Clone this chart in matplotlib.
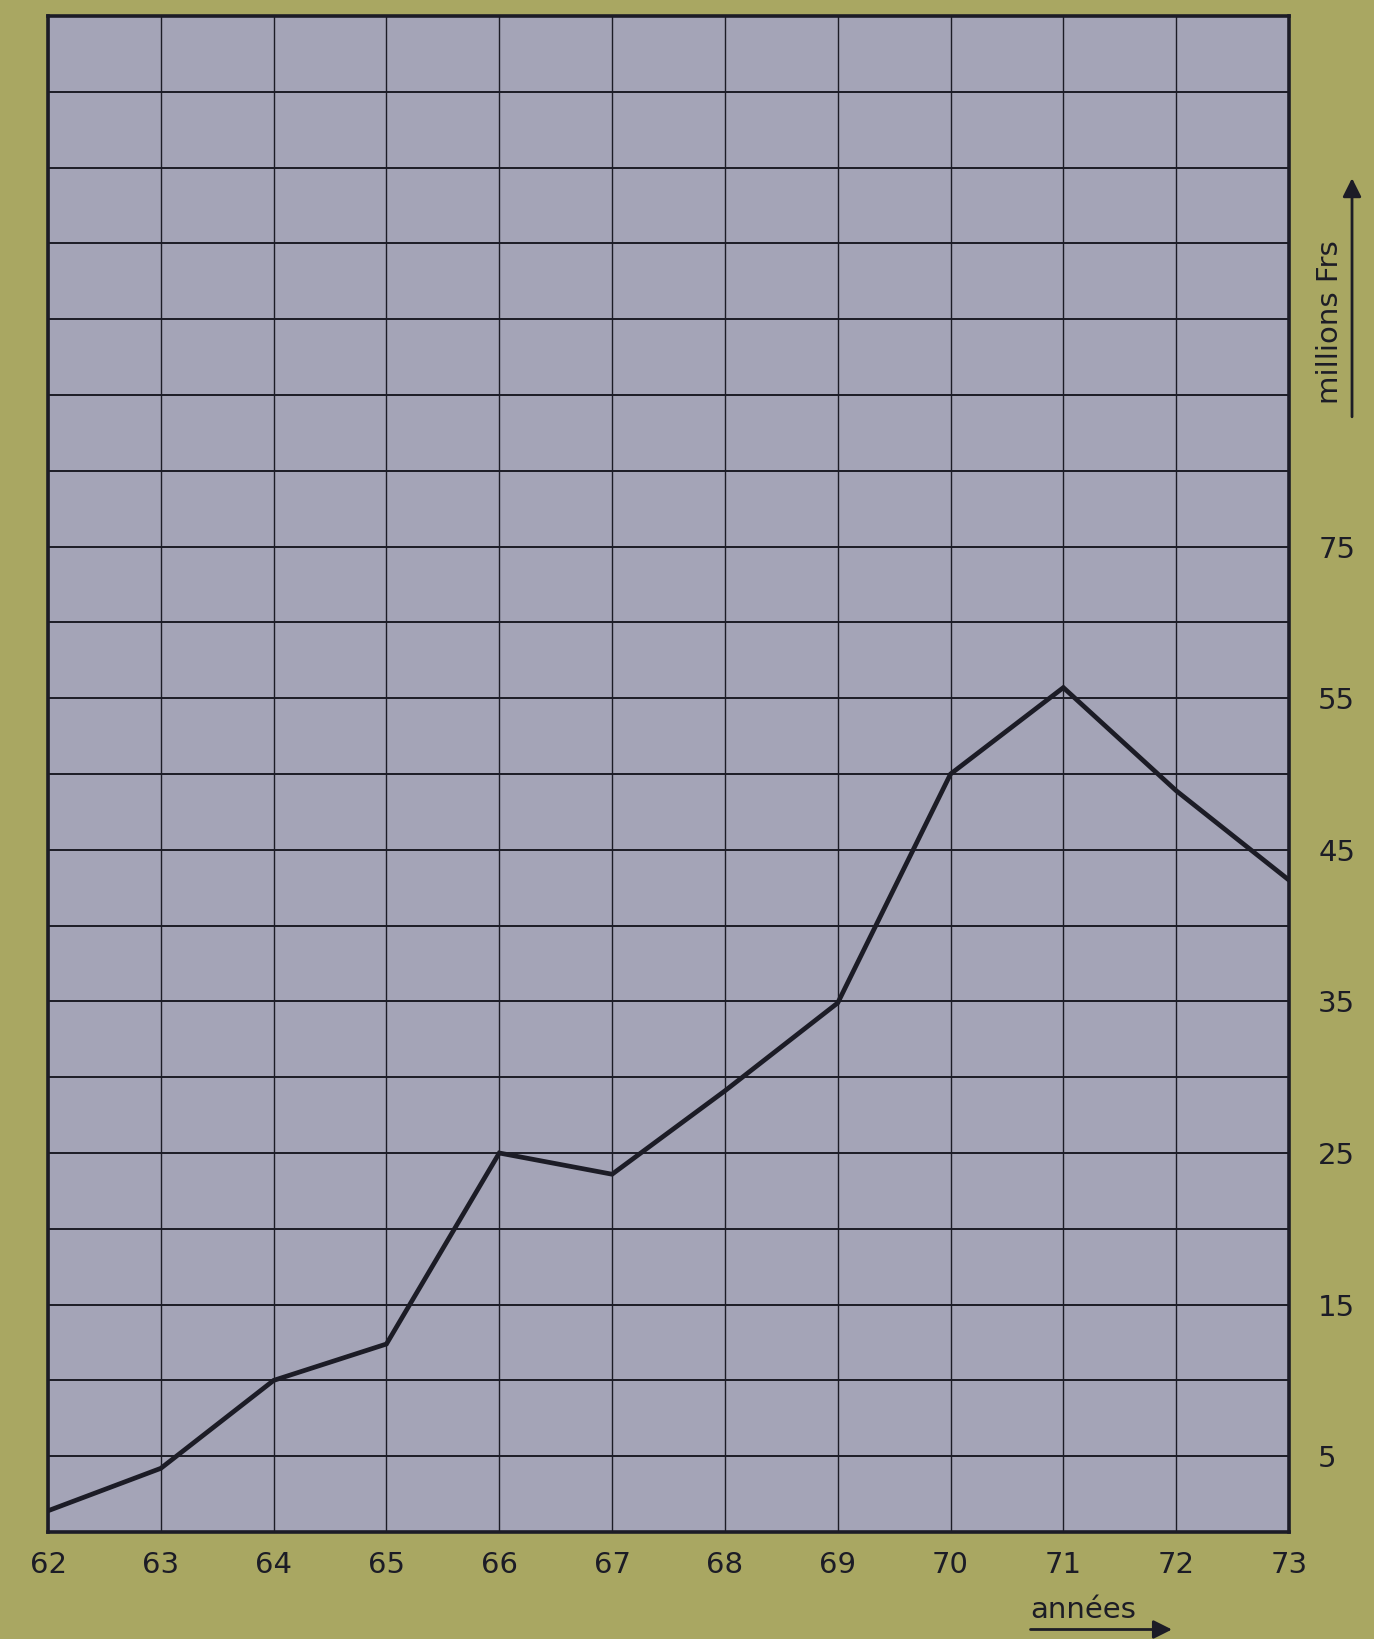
import numpy as np
import matplotlib
matplotlib.use("Agg")
import matplotlib.pyplot as plt

# valeurs (millions Frs par année)
annees = [62, 63, 64, 65, 66, 67, 68, 69, 70, 71, 72, 73]
valeurs = [1.4, 4.2, 10.0, 12.4, 25.0, 23.6, 29.1, 34.9, 50.0, 55.7, 48.9, 43.0]

# graduations de droite (le "75" est tel quel sur l'original)
y_ticks = [5, 15, 25, 35, 45, 55, 65]
y_labels = ["5", "15", "25", "35", "45", "55", "75"]
x_labels = ["62", "63", "64", "65", "66", "67", "68", "69", "70", "71", "72", "73"]

olive = "#a9a762"
lavande = "#a4a4b7"
encre = "#1c1c26"

plt.rcParams["font.family"] = ["DejaVu Sans"]

fig = plt.figure(figsize=(13.74, 16.39), dpi=100, facecolor=olive)
ax = fig.add_axes([48 / 1374, 1 - 1532 / 1639, (1289 - 48) / 1374, (1532 - 16) / 1639])
ax.set_facecolor(lavande)

ax.plot(annees, valeurs, color=encre, lw=3.4, solid_joinstyle="miter", zorder=3)

ax.set_xlim(62, 73)
ax.set_ylim(0, 100)

# quadrillage : une ligne par année, une ligne tous les 5
ax.set_xticks(annees)
ax.set_xticklabels(x_labels)
ax.set_yticks(y_ticks)
ax.set_yticklabels(y_labels)
ax.set_yticks(np.arange(0, 101, 5), minor=True)
ax.xaxis.grid(True, which="major", color=encre, lw=1.0)
ax.yaxis.grid(True, which="both", color=encre, lw=1.4)
ax.set_axisbelow(True)

ax.yaxis.tick_right()
ax.tick_params(axis="both", which="both", length=0, labelsize=21, colors=encre)
ax.tick_params(axis="x", pad=14)
ax.tick_params(axis="y", pad=21)

for s in ax.spines.values():
    s.set_color(encre)
    s.set_linewidth(2.6)

# légendes avec flèches
fig.text(0.968, 0.8035, "millions Frs", rotation=90, ha="center", va="center",
         fontsize=21, color=encre)
fig.add_artist(matplotlib.patches.FancyArrowPatch(
    (0.984, 0.744), (0.984, 0.893), transform=fig.transFigure,
    arrowstyle="-|>", mutation_scale=28, lw=2, color=encre))

fig.text(0.788, 0.0175, "années", ha="center", va="center", fontsize=21, color=encre)
fig.add_artist(matplotlib.patches.FancyArrowPatch(
    (0.748, 0.0058), (0.855, 0.0058), transform=fig.transFigure,
    arrowstyle="-|>", mutation_scale=28, lw=2, color=encre))

fig.savefig("out.png", dpi=100, facecolor=olive)
